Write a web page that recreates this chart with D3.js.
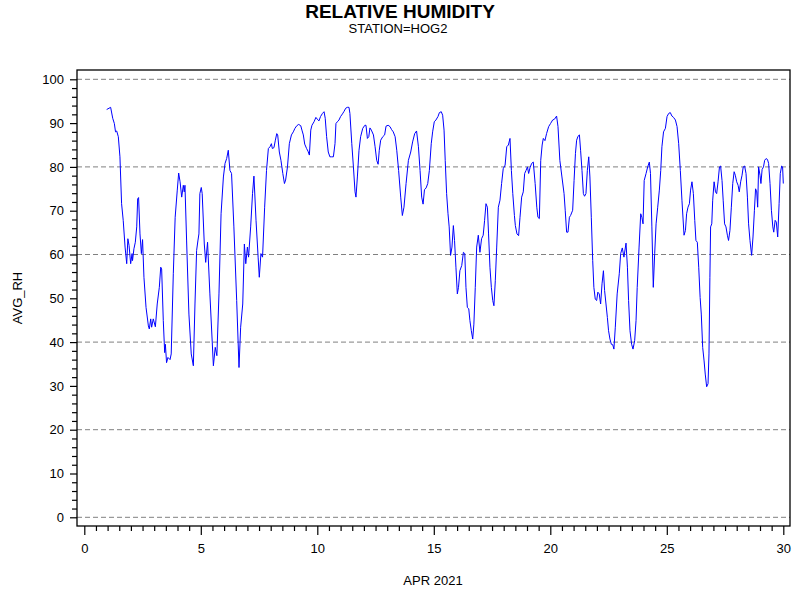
<!DOCTYPE html>
<html>
<head>
<meta charset="utf-8">
<script src="https://cdn.jsdelivr.net/npm/d3@7"></script>
<style>
  body { margin: 0; background: #fff; }
  svg { font-family: "Liberation Sans", Arial, sans-serif; }
</style>
</head>
<body>
<svg id="chart" width="800" height="600"></svg>
<script>
// hourly-ish readings, APR 2021, station HOG2
var days = [0.96,1.13,1.22,1.29,1.34,1.39,1.46,1.53,1.60,1.67,1.75,1.82,1.87,1.92,1.99,2.05,2.07,2.13,2.19,2.25,2.29,2.33,2.39,2.45,2.50,2.56,2.65,2.75,2.79,2.85,2.89,2.96,3.05,3.13,3.22,3.28,3.32,3.39,3.45,3.48,3.53,3.59,3.68,3.73,3.82,3.90,3.99,4.05,4.11,4.18,4.25,4.29,4.32,4.39,4.49,4.59,4.68,4.75,4.82,4.88,4.92,4.96,5.02,5.06,5.15,5.21,5.29,5.39,5.54,5.62,5.69,5.78,5.87,5.97,6.04,6.11,6.18,6.25,6.32,6.42,6.54,6.64,6.71,6.80,6.87,6.93,7.00,7.05,7.14,7.22,7.28,7.37,7.46,7.51,7.58,7.65,7.74,7.82,7.90,7.97,8.03,8.07,8.14,8.20,8.26,8.30,8.37,8.44,8.52,8.59,8.64,8.72,8.80,8.89,8.97,9.04,9.12,9.20,9.29,9.34,9.40,9.46,9.54,9.60,9.66,9.72,9.77,9.86,9.94,10.00,10.07,10.14,10.22,10.29,10.34,10.40,10.47,10.54,10.61,10.69,10.76,10.80,10.86,10.93,11.00,11.08,11.15,11.22,11.29,11.36,11.40,11.48,11.55,11.62,11.66,11.72,11.79,11.86,11.95,12.04,12.09,12.15,12.21,12.26,12.32,12.41,12.48,12.55,12.61,12.66,12.72,12.81,12.89,12.95,13.04,13.12,13.19,13.26,13.34,13.41,13.49,13.58,13.65,13.72,13.81,13.91,14.01,14.09,14.18,14.26,14.34,14.41,14.48,14.54,14.60,14.67,14.74,14.81,14.89,14.95,15.02,15.09,15.18,15.24,15.32,15.38,15.44,15.49,15.55,15.61,15.66,15.72,15.78,15.84,15.89,15.95,16.01,16.06,16.12,16.20,16.27,16.33,16.38,16.44,16.50,16.55,16.61,16.67,16.72,16.78,16.84,16.91,16.98,17.05,17.12,17.18,17.24,17.30,17.35,17.41,17.47,17.53,17.58,17.64,17.70,17.77,17.84,17.91,17.98,18.06,18.13,18.20,18.27,18.33,18.39,18.46,18.50,18.57,18.64,18.70,18.77,18.84,18.90,18.96,19.02,19.07,19.13,19.20,19.27,19.35,19.42,19.47,19.53,19.59,19.65,19.70,19.77,19.84,19.93,20.01,20.10,20.18,20.27,20.33,20.41,20.50,20.59,20.64,20.70,20.76,20.82,20.87,20.96,21.02,21.08,21.13,21.19,21.25,21.30,21.36,21.42,21.47,21.53,21.59,21.65,21.70,21.76,21.82,21.87,21.93,21.99,22.04,22.10,22.16,22.22,22.28,22.33,22.39,22.45,22.50,22.56,22.62,22.68,22.73,22.79,22.87,22.96,23.02,23.09,23.16,23.25,23.31,23.36,23.42,23.49,23.55,23.62,23.68,23.73,23.81,23.88,23.93,23.98,24.03,24.11,24.18,24.25,24.30,24.36,24.42,24.48,24.54,24.61,24.68,24.74,24.79,24.86,24.94,25.01,25.08,25.15,25.22,25.29,25.37,25.44,25.51,25.58,25.65,25.74,25.80,25.85,25.91,25.97,26.02,26.08,26.14,26.20,26.25,26.31,26.37,26.43,26.48,26.54,26.60,26.65,26.71,26.77,26.81,26.85,26.88,26.93,26.97,27.03,27.09,27.14,27.20,27.26,27.31,27.37,27.42,27.48,27.54,27.60,27.65,27.71,27.77,27.83,27.89,27.94,28.00,28.06,28.11,28.17,28.23,28.28,28.34,28.40,28.46,28.51,28.57,28.64,28.70,28.76,28.81,28.86,28.90,28.94,29.00,29.04,29.09,29.15,29.20,29.26,29.32,29.37,29.43,29.49,29.55,29.59,29.65,29.70,29.76,29.82,29.87,29.93,29.97,30.00];
var rh = [93.1,93.6,91.1,89.9,88.0,88.2,86.9,82.3,71.6,67.8,61.7,57.9,63.6,62.1,57.9,60.2,58.6,61.3,62.8,66.3,72.7,73.0,64.7,60.2,63.4,54.8,47.9,43.7,43.0,45.3,43.4,45.3,43.5,48.7,52.5,57.1,56.7,44.9,37.6,39.5,35.3,36.5,36.0,37.3,55.6,68.5,74.7,78.6,76.6,73.1,75.8,74.3,75.8,63.3,46.4,37.3,34.6,48.7,60.9,63.3,64.7,73.9,75.3,73.9,62.4,58.2,62.8,51.0,34.6,38.8,36.9,51.0,69.3,77.7,80.8,81.9,83.8,79.2,78.5,66.3,49.5,34.2,43.4,48.7,62.4,57.9,61.7,59.4,66.3,73.9,77.9,67.8,59.4,54.8,60.2,59.4,70.8,79.2,84.2,84.6,85.3,84.2,84.4,86.1,87.6,87.3,83.4,81.5,78.5,76.2,77.0,80.0,85.3,87.3,88.0,88.8,89.4,89.7,89.4,88.4,87.3,85.2,84.2,83.6,82.7,88.4,89.5,90.3,91.3,90.9,90.5,91.5,92.2,92.6,91.1,86.9,83.4,82.3,82.3,82.3,85.3,89.9,90.3,90.7,91.5,92.1,92.7,93.4,93.6,93.6,92.2,85.3,80.0,74.3,73.1,77.7,83.8,86.9,88.8,89.5,89.5,86.5,86.9,88.9,88.4,87.3,84.6,81.5,80.6,83.8,86.1,86.9,87.3,89.3,89.5,89.2,88.5,88.0,86.9,83.8,79.2,73.1,68.9,70.8,76.2,81.5,83.4,85.7,87.6,88.2,84.6,79.2,73.1,71.5,74.8,75.2,76.2,79.2,85.3,88.0,90.3,90.7,91.5,92.4,92.6,91.8,88.4,81.5,73.9,69.3,66.3,59.8,61.7,66.6,63.2,57.1,51.0,52.5,56.3,57.5,60.5,60.2,52.5,47.9,47.6,44.9,42.6,40.7,44.1,52.5,61.7,64.4,60.5,63.6,64.4,67.8,71.6,70.8,64.7,57.1,52.5,49.5,48.3,54.0,61.7,70.8,72.4,76.2,79.6,80.4,84.6,85.0,86.5,79.2,73.9,68.9,66.6,64.7,64.3,68.5,73.1,74.3,78.5,79.2,80.0,78.5,79.8,80.8,81.1,76.2,70.8,68.5,68.2,81.5,85.0,86.5,86.0,87.6,89.2,89.9,90.7,90.9,91.6,89.2,81.5,77.7,73.9,70.1,65.1,65.1,68.5,68.9,70.1,76.9,83.1,86.1,87.0,87.3,83.8,79.2,73.9,73.3,73.9,79.2,82.3,77.7,68.5,58.6,52.5,49.8,49.5,51.4,51.0,48.7,53.3,56.3,51.8,48.7,45.6,42.6,40.7,39.5,39.4,38.4,43.4,51.0,55.6,60.2,61.5,59.4,62.6,57.1,49.5,42.6,39.5,38.4,40.3,44.9,52.5,61.7,69.3,68.5,67.0,76.9,78.5,80.0,81.1,78.5,66.3,52.5,60.2,67.0,70.8,74.7,79.2,84.6,88.0,88.8,91.5,92.2,92.4,91.6,91.3,90.7,89.2,85.3,79.2,72.4,64.4,65.5,69.3,70.8,71.6,74.7,76.6,73.9,67.8,63.2,62.8,57.1,50.2,46.4,38.8,35.7,32.7,29.8,30.5,37.3,54.8,66.3,67.0,72.4,76.6,74.3,73.9,76.6,80.0,80.2,76.9,72.4,67.0,66.3,64.4,63.2,65.5,70.8,76.2,78.9,78.1,76.6,75.8,74.3,76.6,78.1,80.0,80.2,78.5,73.1,67.0,63.2,59.8,64.0,70.1,75.0,74.3,70.8,80.0,78.1,76.2,79.4,80.0,81.5,81.9,81.7,80.8,76.2,70.1,66.3,65.1,67.8,67.4,64.0,71.6,78.5,80.2,80.0,76.2];

var xMajor = [0, 5, 10, 15, 20, 25, 30];
var yMajor = [0, 10, 20, 30, 40, 50, 60, 70, 80, 90, 100];
var yGrid = [0, 20, 40, 60, 80, 100];

var svg = d3.select("#chart");

var frame = {left: 77, right: 790, top: 70, bottom: 526};

var xScale = d3.scaleLinear().domain([0, 30]).range([84.3, 783.3]);
var yScale = d3.scaleLinear().domain([0, 100]).range([517.3, 79.3]);

//Titles
svg.append("text")
	.attr("x", 400).attr("y", 18)
	.attr("text-anchor", "middle")
	.style("font-size", "19px").style("font-weight", "bold")
	.text("RELATIVE HUMIDITY");
svg.append("text")
	.attr("x", 398).attr("y", 33)
	.attr("text-anchor", "middle")
	.style("font-size", "13px")
	.text("STATION=HOG2");

//Grid lines
svg.selectAll("line.grid")
	.data(yGrid)
	.enter()
	.append("line")
		.attr("class", "grid")
		.attr("x1", frame.left).attr("x2", frame.right)
		.attr("y1", function(d) { return yScale(d); })
		.attr("y2", function(d) { return yScale(d); })
		.attr("stroke", "#808080")
		.attr("stroke-dasharray", "5,3");

//Minor ticks
var xMinor = d3.range(0, 30.01, 0.5).filter(function(d) { return d % 5 !== 0; });
var yMinor = d3.range(0, 100.01, 2).filter(function(d) { return d % 10 !== 0; });

svg.append("g")
	.attr("transform", "translate(0," + frame.bottom + ")")
	.call(d3.axisBottom(xScale).tickValues(xMinor).tickSize(5).tickFormat(""))
	.call(function(g) { g.select(".domain").remove(); });
svg.append("g")
	.attr("transform", "translate(" + frame.left + ",0)")
	.call(d3.axisLeft(yScale).tickValues(yMinor).tickSize(5).tickFormat(""))
	.call(function(g) { g.select(".domain").remove(); });

//Major ticks
var xAxis = svg.append("g")
	.attr("transform", "translate(0," + frame.bottom + ")")
	.call(d3.axisBottom(xScale).tickValues(xMajor).tickSize(9).tickPadding(9).tickFormat(d3.format("d")));
xAxis.select(".domain").remove();
var yAxis = svg.append("g")
	.attr("transform", "translate(" + frame.left + ",0)")
	.call(d3.axisLeft(yScale).tickValues(yMajor).tickSize(7).tickPadding(6).tickFormat(d3.format("d")));
yAxis.select(".domain").remove();

svg.selectAll(".tick line").attr("stroke", "#000").attr("stroke-width", 1.2);
svg.selectAll(".tick text")
	.attr("fill", "#000")
	.style("font-size", "13px")
	.style("font-family", "\"Liberation Sans\", Arial, sans-serif");

//Frame
svg.append("rect")
	.attr("x", frame.left).attr("y", frame.top)
	.attr("width", frame.right - frame.left)
	.attr("height", frame.bottom - frame.top)
	.attr("fill", "none")
	.attr("stroke", "#000")
	.attr("stroke-width", 1.3);

//Axis labels
svg.append("text")
	.attr("x", 433).attr("y", 585)
	.attr("text-anchor", "middle")
	.style("font-size", "13px")
	.text("APR 2021");
svg.append("text")
	.attr("transform", "translate(22,298) rotate(-90)")
	.attr("text-anchor", "middle")
	.style("font-size", "13px")
	.text("AVG_RH");

//RH line
var lineGen = d3.line()
	.x(function(d, i) { return xScale(days[i]); })
	.y(function(d) { return yScale(d); });

svg.append("path")
	.attr("d", lineGen(rh))
	.attr("stroke", "#0000ff")
	.attr("stroke-width", 1)
	.attr("fill", "none");
</script>
</body>
</html>
